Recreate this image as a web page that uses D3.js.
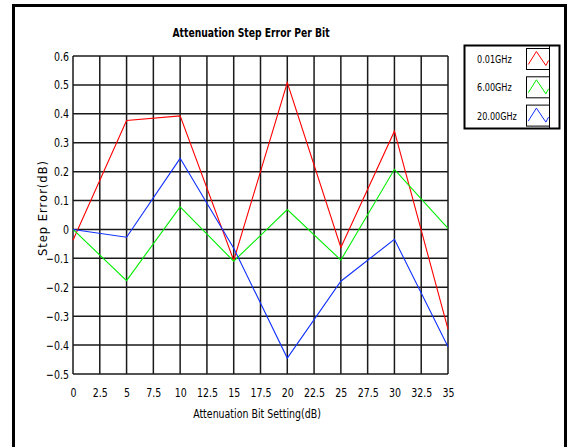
<!DOCTYPE html>
<html>
<head>
<meta charset="UTF-8">
<title>Attenuation Step Error Per Bit</title>
<script src="https://cdn.jsdelivr.net/npm/d3@7"></script>
<style>
  body { margin: 0; background: #fff; }
  text { font-family: "DejaVu Sans Condensed", "DejaVu Sans", sans-serif; fill: #000; }
</style>
</head>
<body>
<script>
// attenuation bit settings (dB)
var bits = [0, 5, 10, 15, 20, 25, 30, 35];
// step error (dB) per frequency
var err001 = [-0.037, 0.377, 0.393, -0.107, 0.508, -0.062, 0.34, -0.345];
var err600 = [0, -0.177, 0.078, -0.11, 0.069, -0.106, 0.208, 0.004];
var err2000 = [0, -0.027, 0.246, -0.065, -0.445, -0.179, -0.034, -0.406];

var seriesNames = ["0.01GHz", "6.00GHz", "20.00GHz"];
var seriesColors = ["#ff0000", "#00ee00", "#1030ff"];
var seriesValues = [err001, err600, err2000];

var xTicks = d3.range(0, 35.01, 2.5);
var yTicks = d3.range(-5, 7).map(function (d) { return d / 10; });

var W = 569, H = 447;
var plot = { left: 73, right: 448, top: 56, bottom: 374 };
var squeeze = 0.84;   // the original text is horizontally narrow

var svg = d3.select("body").append("svg")
  .attr("width", W)
  .attr("height", H);

// outer frame
svg.append("rect")
  .attr("x", 13.5).attr("y", 5.5)
  .attr("width", 552).attr("height", 445)
  .attr("fill", "none").attr("stroke", "#000").attr("stroke-width", 3);

var x = d3.scaleLinear().domain([0, 35]).range([plot.left, plot.right]);
var y = d3.scaleLinear().domain([-0.5, 0.6]).range([plot.bottom, plot.top]);

// grid
var g = svg.append("g");
g.selectAll("line.vg").data(xTicks).enter().append("line")
  .attr("x1", function (d) { return x(d); })
  .attr("x2", function (d) { return x(d); })
  .attr("y1", plot.top).attr("y2", plot.bottom)
  .attr("stroke", "#1a1a1a").attr("stroke-width", 1.5);
g.selectAll("line.hg").data(yTicks).enter().append("line")
  .attr("x1", plot.left).attr("x2", plot.right)
  .attr("y1", function (d) { return y(d); })
  .attr("y2", function (d) { return y(d); })
  .attr("stroke", "#1a1a1a").attr("stroke-width", 1.5);

// axes labels
var fmtX = function (d) { return d3.format("")(d); };
var fmtY = function (d) { return d === 0 ? "0" : d3.format(".1f")(d); };

var xAxis = d3.axisBottom(x).tickValues(xTicks).tickSize(0).tickPadding(14).tickFormat(fmtX);
var yAxis = d3.axisLeft(y).tickValues(yTicks).tickSize(0).tickPadding(4).tickFormat(fmtY);

svg.append("g").attr("transform", "translate(0," + plot.bottom + ")").call(xAxis)
  .call(function (s) { s.select(".domain").remove(); })
  .selectAll("text")
  .style("font-size", "12.5px")
  .attr("transform", "scale(" + squeeze + ",1)");
svg.append("g").attr("transform", "translate(" + plot.left + ",0)").call(yAxis)
  .call(function (s) { s.select(".domain").remove(); })
  .selectAll("text")
  .style("font-size", "12.5px")
  .attr("x", -4 / squeeze)
  .attr("transform", "scale(" + squeeze + ",1)");

// series
var line = d3.line()
  .x(function (d, i) { return x(bits[i]); })
  .y(function (d) { return y(d); });

seriesValues.forEach(function (vals, k) {
  svg.append("path")
    .datum(vals)
    .attr("d", line)
    .attr("fill", "none")
    .attr("stroke", seriesColors[k])
    .attr("stroke-width", 1.1);
});

// titles
svg.append("text")
  .attr("transform", "translate(251,37) scale(0.82,1)")
  .attr("text-anchor", "middle")
  .style("font-size", "12.5px").style("font-weight", "bold")
  .text("Attenuation Step Error Per Bit");

svg.append("text")
  .attr("transform", "translate(257,418) scale(" + squeeze + ",1)")
  .attr("text-anchor", "middle")
  .style("font-size", "12.5px")
  .text("Attenuation Bit Setting(dB)");

svg.append("text")
  .attr("transform", "translate(47,208) rotate(-90)")
  .attr("text-anchor", "middle")
  .style("font-size", "11.5px")
  .style("font-family", "DejaVu Sans")
  .style("letter-spacing", "1px")
  .text("Step Error(dB)");

// legend
var lg = svg.append("g");
lg.append("rect")
  .attr("x", 464.5).attr("y", 45.5).attr("width", 95).attr("height", 83)
  .attr("fill", "#fff").attr("stroke", "#000").attr("stroke-width", 2);
lg.append("line")
  .attr("x1", 549.5).attr("x2", 549.5).attr("y1", 46).attr("y2", 128)
  .attr("stroke", "#000").attr("stroke-width", 1);

var sw = d3.scaleLinear().domain([0, 1]).range([0, 22]);
var sh = d3.scaleLinear().domain([0, 1]).range([20, 0]);
var glyph = [[0.08, 0.2], [0.45, 0.85], [0.88, 0.15], [1, 0.4]];

seriesNames.forEach(function (name, k) {
  var top = 48 + k * 28.3;
  lg.append("text")
    .attr("transform", "translate(477," + (top + 15) + ") scale(0.82,1)")
    .style("font-size", "11px")
    .text(name);
  var sg = lg.append("g").attr("transform", "translate(526.5," + (top + 0.5) + ")");
  sg.append("rect")
    .attr("width", 23).attr("height", 21)
    .attr("fill", "#fff").attr("stroke", "#000").attr("stroke-width", 1);
  sg.append("path")
    .attr("d", d3.line().x(function (d) { return sw(d[0]); }).y(function (d) { return sh(d[1]); })(glyph))
    .attr("fill", "none").attr("stroke", seriesColors[k]).attr("stroke-width", 1);
});
</script>
</body>
</html>
